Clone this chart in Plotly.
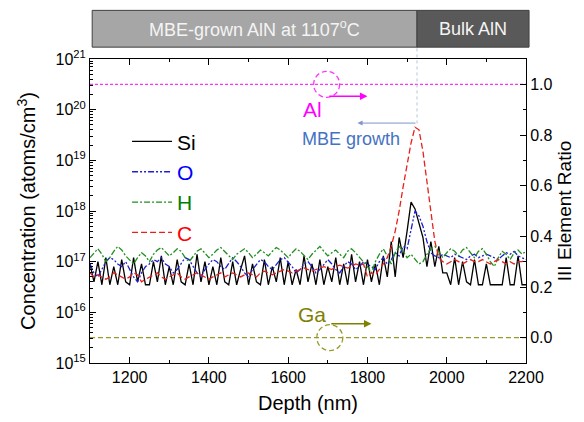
import plotly.graph_objects as go

depth = list(range(1100, 2201, 10))

# concentrations in units of 1e16 atoms/cm3
si_e16 = [9, 4, 10, 3.5, 12, 3.5, 8, 3.5, 11, 4,
          3.5, 12, 4, 9, 3.5, 3.5, 10, 4, 13, 3.5,
          8, 3.5, 11, 4, 3.5, 9, 3.5, 14, 4, 10,
          3.5, 8, 3.5, 12, 4, 3.5, 10, 3.5, 7, 13,
          3.5, 9, 4, 3.5, 11, 3.5, 8, 4, 12, 3.5,
          10, 3.5, 7, 3.5, 13, 4, 9, 3.5, 11, 3.5,
          8, 4, 12, 3.5, 9, 3.5, 14, 4, 10, 3.5,
          11, 4, 9, 3.5, 13, 5, 25, 5, 30, 12,
          40, 150, 110, 60, 30, 8, 25, 8, 20, 6,
          6, 3.5, 12, 3.5, 10, 4, 3.5, 11, 3.5, 3.5,
          9, 3.5, 3.5, 3.5, 3.5, 12, 3.5, 3.5, 13, 3.5,
          3.5]
o_e16 = [9, 6, 5, 7, 10, 12, 11, 9, 8, 10,
         7, 5, 4, 6, 8, 9, 11, 10, 12, 9,
         8, 6, 7, 9, 12, 11, 8, 6, 5, 7,
         9, 11, 10, 8, 7, 9, 12, 10, 8, 6,
         5, 7, 9, 11, 10, 8, 7, 9, 11, 12,
         10, 8, 6, 7, 9, 10, 8, 6, 7, 9,
         11, 9, 7, 6, 8, 10, 9, 7, 8, 10,
         9, 8, 7, 10, 12, 9, 11, 15, 13, 20,
         18, 40, 100, 80, 50, 25, 15, 13, 12, 14,
         13, 12, 14, 13, 12, 11, 13, 14, 12, 13,
         14, 13, 12, 11, 13, 15, 14, 16, 13, 12,
         11]
h_e16 = [12, 15, 18, 14, 10, 12, 16, 20, 17, 13,
         11, 9, 12, 15, 13, 10, 14, 17, 19, 16,
         13, 15, 18, 16, 12, 10, 13, 16, 18, 15,
         12, 14, 17, 19, 16, 13, 11, 14, 16, 18,
         15, 12, 14, 17, 15, 13, 16, 19, 17, 14,
         12, 15, 18, 16, 13, 11, 14, 17, 20, 16,
         13, 15, 17, 14, 12, 16, 18, 15, 12, 10,
         8, 6, 10, 14, 18, 13, 9, 15, 20, 16,
         12, 14, 11, 9, 10, 14, 18, 20, 16, 12,
         15, 18, 16, 13, 17, 19, 15, 12, 16, 18,
         14, 10, 8, 12, 16, 14, 11, 15, 17, 14,
         16]
c_e16 = [6, 5, 5.5, 5, 4.5, 5, 6, 5.5, 5, 4.5,
         5, 6, 5.5, 4, 4.5, 5, 5.5, 6, 5, 4.5,
         5, 5.5, 6, 5, 4.5, 5, 5.5, 6, 5.5, 5,
         4.5, 5, 5.5, 6, 5, 5.5, 6, 5.5, 5, 5.5,
         6, 5.5, 5, 6, 6.5, 6, 5.5, 6, 6.5, 7,
         6.5, 6, 6.5, 7, 7.5, 7, 6.5, 7, 7.5, 8,
         7.5, 7, 8, 8.5, 8, 7.5, 8, 9, 8.5, 9,
         5, 6, 5.5, 7, 9, 12, 20, 40, 100, 300,
         900, 2200, 4500, 4000, 1500, 400, 100, 25, 12, 10,
         9, 10, 11, 10, 9, 10, 11, 10, 10, 11,
         10, 9, 10, 11, 10, 9, 10, 9, 10, 10,
         11]

ratio_depth = [1100, 2200]
al_ratio = [1.0, 1.0]
ga_ratio = [0.0, 0.0]

left_tickvals = [10.0 ** e for e in range(15, 22)]
left_ticktext = ["10<sup>%d</sup>" % e for e in range(15, 22)]
left_minor = [m * 10.0 ** e for e in range(15, 21) for m in range(2, 10)]
right_tickvals = [0.0, 0.2, 0.4, 0.6, 0.8, 1.0]

FONT = "Liberation Sans, Arial, sans-serif"

fig = go.Figure()

series = [
    ("Si", si_e16, "black", "solid", "black"),
    ("O", o_e16, "#1f1fd0", "6px,2px,2px,2px,2px,2px", "#0000ff"),
    ("H", h_e16, "#1f8f1f", "6px,2px,2px,2px", "#008000"),
    ("C", c_e16, "#e8201a", "6px,3px", "#ff0000"),
]
for name, vals, col, dash, tcol in series:
    fig.add_trace(go.Scatter(
        x=depth, y=[v * 1e16 for v in vals], mode="lines",
        name="<span style='color:%s'>%s</span>" % (tcol, name),
        line=dict(color=col, width=1.3, dash=dash),
        legendgroup=name,
    ))

fig.add_trace(go.Scatter(x=ratio_depth, y=al_ratio, yaxis="y2", mode="lines",
                         line=dict(color="#ff33ff", width=1.3, dash="3px,2px"),
                         showlegend=False))
fig.add_trace(go.Scatter(x=ratio_depth, y=ga_ratio, yaxis="y2", mode="lines",
                         line=dict(color="#9a9a2a", width=1.3, dash="5px,3px"),
                         showlegend=False))

axis_common = dict(showline=True, linecolor="black", linewidth=1, ticks="inside",
                   tickcolor="black", showgrid=False, zeroline=False,
                   tickfont=dict(family=FONT, size=16, color="black"))

fig.update_layout(
    width=584, height=422,
    margin=dict(l=90, r=57, t=59, b=57),
    paper_bgcolor="white", plot_bgcolor="white",
    font=dict(family=FONT, color="black"),
    xaxis=dict(range=[1100, 2200], tickvals=[1200, 1400, 1600, 1800, 2000, 2200],
               ticklen=6, mirror="ticks",
               minor=dict(ticks="inside", ticklen=3, tickvals=list(range(1100, 2201, 100)), tickcolor="black"),
               title=dict(text="Depth (nm)", font=dict(family=FONT, size=20), standoff=10),
               **axis_common),
    yaxis=dict(type="log", range=[15, 21], tickvals=left_tickvals, ticktext=left_ticktext,
               ticklen=6, mirror=True,
               minor=dict(ticks="inside", ticklen=3, tickcolor="black", tickvals=left_minor),
               title=dict(text="Concentration (atoms/cm<sup>3</sup>)", font=dict(family=FONT, size=20), standoff=14),
               **axis_common),
    yaxis2=dict(overlaying="y", side="right", range=[-0.1, 1.1], tickvals=right_tickvals,
                tickformat=".1f", ticklen=6,
                minor=dict(ticks="inside", ticklen=3, tickcolor="black",
                           tickvals=[-0.1, 0.1, 0.3, 0.5, 0.7, 0.9, 1.1]),
                title=dict(text="III Element Ratio", font=dict(family=FONT, size=19), standoff=6),
                **axis_common),
    legend=dict(x=0.085, y=0.795, xanchor="left", yanchor="top", bgcolor="rgba(0,0,0,0)",
                font=dict(family=FONT, size=21), tracegroupgap=0, itemwidth=40),
    showlegend=True,
)

shapes = [
    dict(type="rect", xref="paper", yref="paper", x0=0.005, x1=0.75, y0=1.039, y1=1.16,
         fillcolor="#a6a6a6", line=dict(color="#404040", width=1)),
    dict(type="rect", xref="paper", yref="paper", x0=0.75, x1=1.007, y0=1.039, y1=1.16,
         fillcolor="#595959", line=dict(color="#404040", width=1)),
    dict(type="line", xref="x", yref="paper", x0=1925, x1=1925, y0=0.788, y1=1.039,
         line=dict(color="#b8c4d8", width=1, dash="dot")),
    dict(type="circle", xref="x", yref="y2", xsizemode="pixel", ysizemode="pixel",
         xanchor=1697, yanchor=1.0, x0=-13, x1=13, y0=-13, y1=13,
         line=dict(color="#ff33ff", width=1.3, dash="5px,3px")),
    dict(type="circle", xref="x", yref="y2", xsizemode="pixel", ysizemode="pixel",
         xanchor=1705, yanchor=0.0, x0=-13, x1=13, y0=-13, y1=13,
         line=dict(color="#9a9a2a", width=1.3, dash="5px,3px")),
]
fig.update_layout(shapes=shapes)

annotations = [
    dict(xref="paper", yref="paper", x=0.3775, y=1.0995, xanchor="center", yanchor="middle",
         text="MBE-grown AlN at 1107<sup>o</sup>C",
         showarrow=False, font=dict(family=FONT, size=18, color="#f4f4f4")),
    dict(xref="paper", yref="paper", x=0.8785, y=1.0995, xanchor="center", yanchor="middle",
         text="Bulk AlN",
         showarrow=False, font=dict(family=FONT, size=18, color="#f4f4f4")),
    dict(xref="x", yref="y2", x=1661, y=0.90, text="Al", showarrow=False,
         font=dict(family=FONT, size=21, color="#ff00ff")),
    dict(xref="x", yref="y2", x=1759, y=0.784, text="MBE growth", showarrow=False,
         font=dict(family=FONT, size=18, color="#4472c4")),
    dict(xref="x", yref="y2", x=1661, y=0.09, text="Ga", showarrow=False,
         font=dict(family=FONT, size=21, color="#808000")),
    dict(xref="x", yref="y2", x=1800, y=0.953, ax=1700, ay=0.953, axref="x", ayref="y2",
         text="", showarrow=True, arrowhead=2, arrowsize=1, arrowwidth=1.5, arrowcolor="#ff00ff"),
    dict(xref="x", yref="y2", x=1775, y=0.847, ax=1925, ay=0.847, axref="x", ayref="y2",
         text="", showarrow=True, arrowhead=2, arrowsize=1, arrowwidth=1, arrowcolor="#7f96c8"),
    dict(xref="x", yref="y2", x=1810, y=0.055, ax=1705, ay=0.055, axref="x", ayref="y2",
         text="", showarrow=True, arrowhead=2, arrowsize=1, arrowwidth=1.5, arrowcolor="#808000"),
]
fig.update_layout(annotations=annotations)

fig.write_html("out.html")
